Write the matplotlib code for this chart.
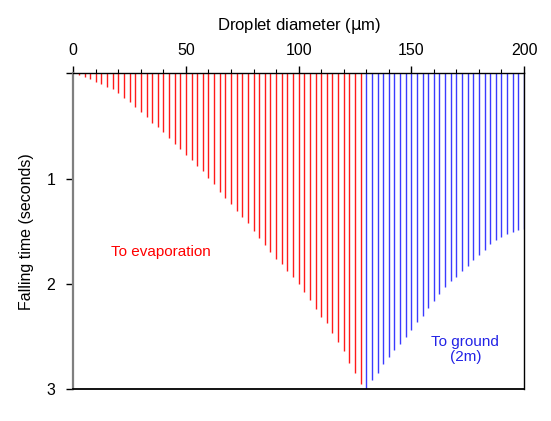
import matplotlib
matplotlib.use("Agg")
from matplotlib import pyplot as plt
from matplotlib.ticker import MultipleLocator

plt.rcParams['font.family'] = ['Liberation Sans', 'DejaVu Sans']

# droplets that evaporate before reaching the ground
d_evap = [2.5, 5, 7.5, 10, 12.5, 15, 17.5, 20, 22.5, 25, 27.5, 30, 32.5, 35,
          37.5, 40, 42.5, 45, 47.5, 50, 52.5, 55, 57.5, 60, 62.5, 65, 67.5,
          70, 72.5, 75, 77.5, 80, 82.5, 85, 87.5, 90, 92.5, 95, 97.5, 100,
          102.5, 105, 107.5, 110, 112.5, 115, 117.5, 120, 122.5, 125, 127.5]
t_evap = [0.02, 0.04, 0.058, 0.083, 0.105, 0.127, 0.149, 0.184, 0.232, 0.276,
          0.32, 0.368, 0.413, 0.47, 0.508, 0.556, 0.613, 0.667, 0.72, 0.775,
          0.819, 0.876, 0.925, 0.99, 1.055, 1.123, 1.184, 1.244, 1.307, 1.367,
          1.424, 1.494, 1.566, 1.633, 1.696, 1.759, 1.81, 1.873, 1.937, 2.003,
          2.073, 2.152, 2.237, 2.31, 2.373, 2.462, 2.554, 2.64, 2.747, 2.848,
          2.949]

# droplets that reach the ground (2 m)
d_ground = [130, 132.5, 135, 137.5, 140, 142.5, 145, 147.5, 150, 152.5, 155,
            157.5, 160, 162.5, 165, 167.5, 170, 172.5, 175, 177.5, 180, 182.5,
            185, 187.5, 190, 192.5, 195, 197.5, 200]
t_ground = [3.0, 2.911, 2.842, 2.759, 2.69, 2.627, 2.57, 2.506, 2.437, 2.364,
            2.30, 2.231, 2.158, 2.095, 2.032, 1.972, 1.93, 1.873, 1.826, 1.772,
            1.725, 1.678, 1.624, 1.582, 1.55, 1.525, 1.505, 1.49, 1.48]

fig = plt.figure(figsize=(5.51, 4.21), dpi=100)
ax = fig.add_axes([0.133, 0.0753, 0.818, 0.7507])

ax.vlines(d_evap, 0, t_evap, colors='#ff1a1a', linewidth=1.0)
ax.vlines(d_ground, 0, t_ground, colors='#3a3aff', linewidth=1.0)

ax.set_xlim(0, 200)
ax.set_ylim(3, 0)

ax.xaxis.tick_top()
ax.xaxis.set_label_position('top')
ax.xaxis.set_major_locator(MultipleLocator(50))
ax.xaxis.set_minor_locator(MultipleLocator(10))
ax.set_yticks([0, 1, 2, 3])
ax.set_yticklabels(['', '1', '2', '3'])

ax.tick_params(axis='x', which='major', direction='out', length=5, width=1,
               labelsize=11.5, pad=6)
ax.tick_params(axis='x', which='minor', direction='out', length=3, width=0.8)
ax.tick_params(axis='y', direction='out', length=5, width=1, labelsize=11.5,
               pad=8)

ax.set_xlabel(r"Droplet diameter ($\mathrm{\mu}$m)", fontsize=12, labelpad=9)
ax.set_ylabel("Falling time (seconds)", fontsize=11.5, labelpad=9)

for s in ['top', 'bottom', 'right']:
    ax.spines[s].set_color('black')
    ax.spines[s].set_linewidth(1.0)
ax.spines['bottom'].set_linewidth(1.3)
ax.spines['left'].set_color('#7f7f7f')
ax.spines['left'].set_linewidth(1.6)

ax.text(38.8, 1.70, "To evaporation", color='red', fontsize=11,
        ha='center', va='center')
ax.text(174, 2.62, "To ground\n(2m)", color='#2323e6', fontsize=11,
        ha='center', va='center', linespacing=1.1)

fig.savefig("out.png", dpi=100)
